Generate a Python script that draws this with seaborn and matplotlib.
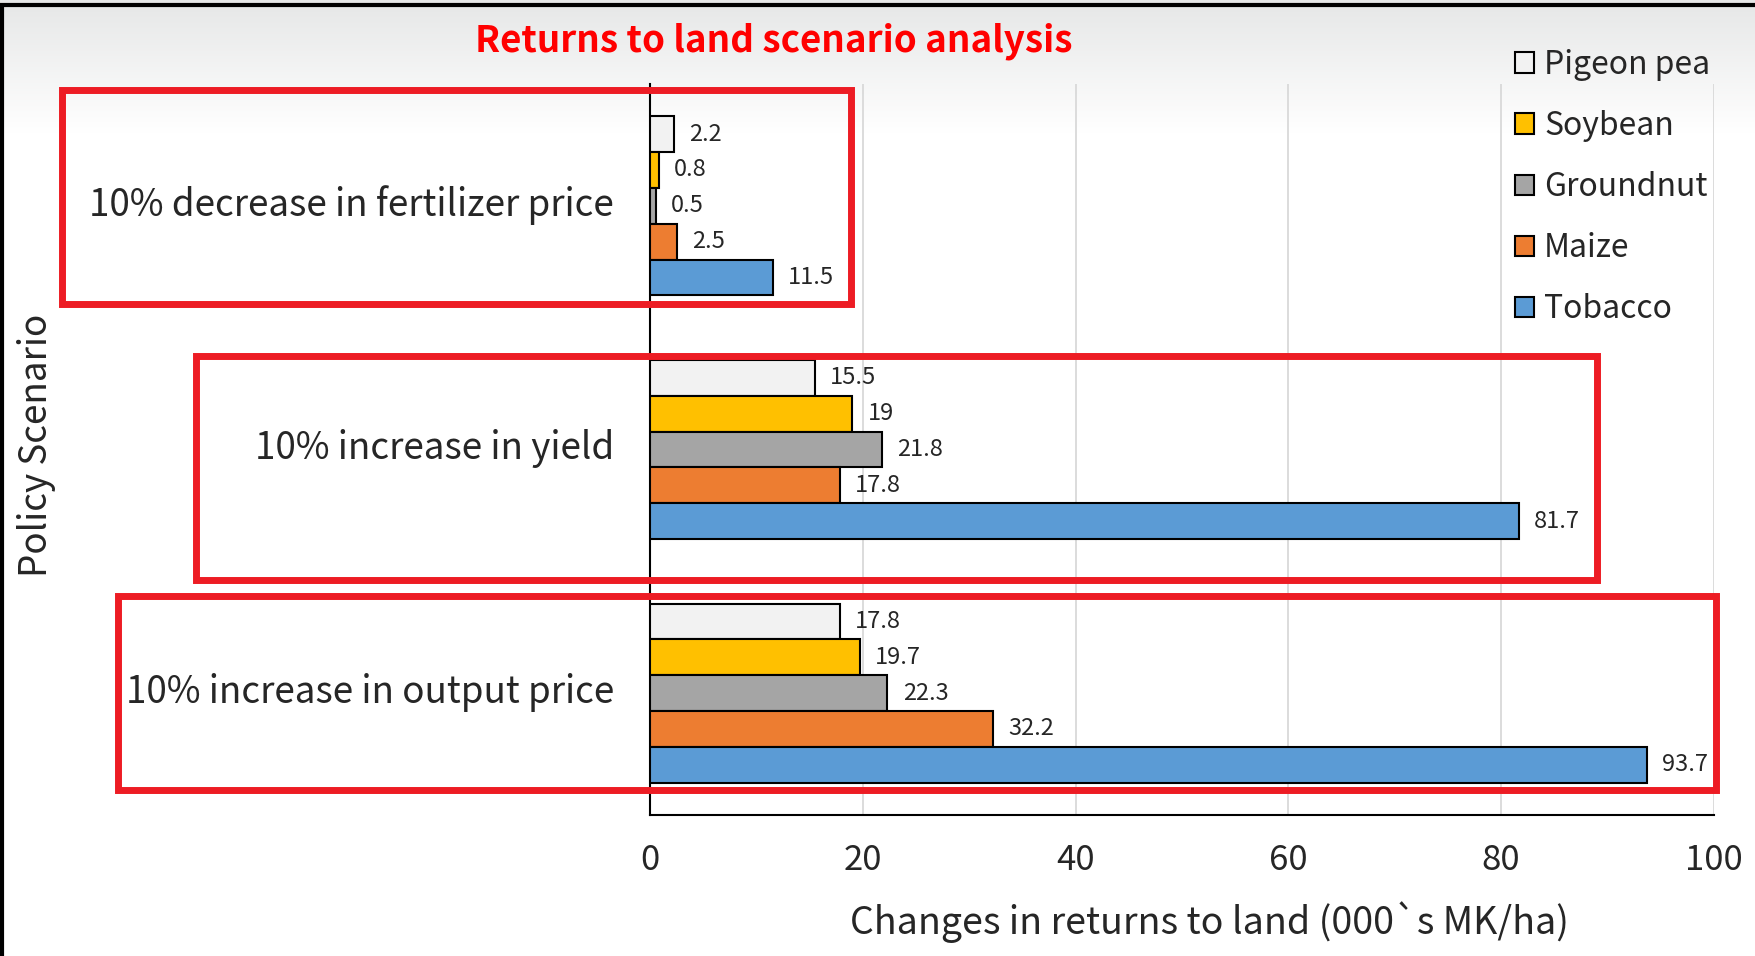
import numpy as np
import pandas as pd
import matplotlib
matplotlib.use("Agg")
import matplotlib.pyplot as plt
import matplotlib.transforms as mtransforms
from matplotlib.patches import Rectangle
from matplotlib.lines import Line2D
import seaborn as sns

# data
scenarios = ["10% decrease in fertilizer price", "10% increase in yield", "10% increase in output price"]
crops = ["Pigeon pea", "Soybean", "Groundnut", "Maize", "Tobacco"]
fertilizer_vals = [2.2, 0.8, 0.5, 2.5, 11.5]
yield_vals = [15.5, 19, 21.8, 17.8, 81.7]
price_vals = [17.8, 19.7, 22.3, 32.2, 93.7]
crop_colors = ["#F2F2F2", "#FFC000", "#A5A5A5", "#ED7D31", "#5B9BD5"]
x_ticks = [0, 20, 40, 60, 80, 100]

rows = []
for sc, vals in zip(scenarios, [fertilizer_vals, yield_vals, price_vals]):
    for crop, v in zip(crops, vals):
        rows.append({"scenario": sc, "crop": crop, "value": v})
df = pd.DataFrame(rows)

sns.set_style("white")
plt.rcParams['font.family'] = ['Noto Sans CJK JP', 'DejaVu Sans']

fig = plt.figure(figsize=(17.55, 9.56), dpi=100)
fig.patch.set_facecolor("white")

# light grey gradient at the top of the picture
bg = fig.add_axes([0, 0.86, 1, 0.14], zorder=-10)
grad = np.linspace(0, 1, 100).reshape(-1, 1)
bg.imshow(grad, aspect="auto", cmap=matplotlib.colors.LinearSegmentedColormap.from_list(
    "g", ["#ffffff", "#e6e7e7"]), origin="lower", extent=[0, 1, 0, 1])
bg.axis("off")

ax = fig.add_axes([0.3705, 0.1475, 0.6059, 0.7647])
ax.patch.set_alpha(0)
sns.barplot(data=df, y="scenario", x="value", hue="crop", orient="h",
            palette=crop_colors, hue_order=crops, order=scenarios, saturation=1,
            width=0.735, edgecolor="black", linewidth=1.5, ax=ax, zorder=3)

for cont in ax.containers:
    ax.bar_label(cont, fmt="%g", padding=11, fontsize=17, color="#262626")

ax.set_xlim(0, 100)
ax.set_ylim(2.5, -0.5)
ax.set_xticks(x_ticks)
ax.tick_params(axis="x", labelsize=25, pad=20, length=0)
ax.tick_params(axis="y", labelsize=26.5, pad=26, length=0)
ax.xaxis.grid(True, color="#d9d9d9", linewidth=1.3, zorder=0)
ax.set_axisbelow(True)
for s in ["top", "right"]:
    ax.spines[s].set_visible(False)
ax.spines["left"].set_color("black")
ax.spines["left"].set_linewidth(1.5)
ax.spines["bottom"].set_color("black")
ax.spines["bottom"].set_linewidth(1.5)
ax.set_ylabel("")
ax.set_xlabel("")

# nudge the scenario labels up a little
shift = mtransforms.ScaledTranslation(0, 5 / 100, fig.dpi_scale_trans)
for lbl in ax.get_yticklabels():
    lbl.set_transform(lbl.get_transform() + shift)

fig.text(0.021, 0.534, "Policy Scenario", rotation=90, fontsize=26.5, va="center", ha="center")
fig.text(0.689, 0.036, "Changes in returns to land (000`s MK/ha)", fontsize=27, ha="center", va="center")
fig.text(0.441, 0.957, "Returns to land scenario analysis", fontsize=26.5, fontweight="bold",
         color="#FF0000", ha="center", va="center")

leg = ax.legend(loc="upper left", bbox_to_anchor=(0.847, 0.979), bbox_transform=fig.transFigure,
                frameon=False, fontsize=23, handlelength=0.6, handleheight=0.6,
                labelspacing=0.91, handletextpad=0.3)
for h in leg.legend_handles:
    h.set_edgecolor("black")
    h.set_linewidth(1.5)

# red highlight boxes round each scenario
boxes = [(0.0351, 0.6815, 0.4847, 0.9063),
         (0.1116, 0.3934, 0.9101, 0.6276),
         (0.0670, 0.1733, 0.9777, 0.3770)]
for x0, y0, x1, y1 in boxes:
    fig.add_artist(Rectangle((x0, y0), x1 - x0, y1 - y0, transform=fig.transFigure,
                             fill=False, edgecolor="#ED1C24", linewidth=5, zorder=5))

# black screenshot frame on top and left
fig.add_artist(Line2D([0, 1], [0.9945, 0.9945], transform=fig.transFigure, color="black", linewidth=3))
fig.add_artist(Line2D([0.001, 0.001], [0, 0.995], transform=fig.transFigure, color="black", linewidth=3))

fig.savefig("out.png", dpi=100)
